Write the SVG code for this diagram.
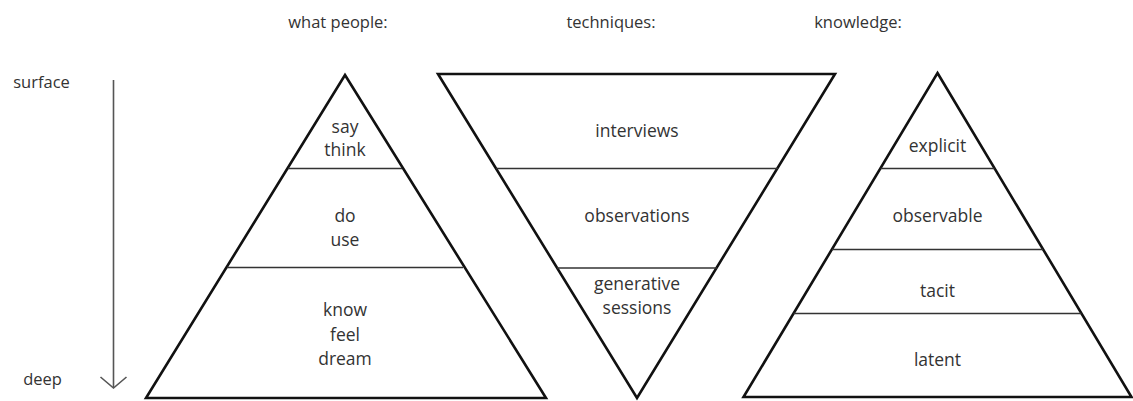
<svg xmlns="http://www.w3.org/2000/svg" width="1133" height="401" viewBox="0 0 1133 401">
<style>
.t{font-family:"Open Sans","Liberation Sans",sans-serif;font-size:17.5px;fill:#333;text-anchor:middle}
.h{font-size:16.5px}
.out{fill:none;stroke:#111;stroke-width:2.6;stroke-linejoin:miter}
.div{stroke:#333;stroke-width:1.6}
.ax{fill:none;stroke:#555;stroke-width:1.6}
</style>
<rect width="1133" height="401" fill="#fff"/>
<g id="headers">
<text class="t h" x="338" y="28">what people:</text>
<text class="t h" x="611" y="28">techniques:</text>
<text class="t h" x="858" y="28">knowledge:</text>
</g>
<g id="depth-axis">
<text class="t h" x="41.5" y="88">surface</text>
<text class="t h" x="42.5" y="385">deep</text>
</g>
<g id="connectors">
<line class="ax" x1="113.5" y1="80" x2="113.5" y2="387"/>
<polyline class="ax" points="100.5,377 113.5,388 126.5,377"/>
</g>
<g id="what-people">
<polygon class="out" points="345,75 546,398 146,398"/>
<line class="div" x1="288" y1="168.5" x2="402" y2="168.5"/>
<line class="div" x1="227" y1="267.5" x2="463" y2="267.5"/>
<text class="t" x="345" y="133">say</text>
<text class="t" x="345" y="156">think</text>
<text class="t" x="345" y="222">do</text>
<text class="t" x="345" y="246">use</text>
<text class="t" x="345" y="316">know</text>
<text class="t" x="345" y="340.5">feel</text>
<text class="t" x="345" y="365">dream</text>
</g>
<g id="techniques">
<polygon class="out" points="438,74 835,74 637,398"/>
<line class="div" x1="496" y1="168.5" x2="778" y2="168.5"/>
<line class="div" x1="557" y1="268" x2="717" y2="268"/>
<text class="t" x="637" y="137">interviews</text>
<text class="t" x="637" y="222">observations</text>
<text class="t" x="637" y="290">generative</text>
<text class="t" x="637" y="314">sessions</text>
</g>
<g id="knowledge">
<polygon class="out" points="937.5,73 1131.5,397 743.5,397"/>
<line class="div" x1="880.5" y1="168.5" x2="994.5" y2="168.5"/>
<line class="div" x1="832" y1="249.5" x2="1043" y2="249.5"/>
<line class="div" x1="793.5" y1="313.5" x2="1081.5" y2="313.5"/>
<text class="t" x="937.5" y="152">explicit</text>
<text class="t" x="937.5" y="222">observable</text>
<text class="t" x="937.5" y="297">tacit</text>
<text class="t" x="937.5" y="365.5">latent</text>
</g>
</svg>
